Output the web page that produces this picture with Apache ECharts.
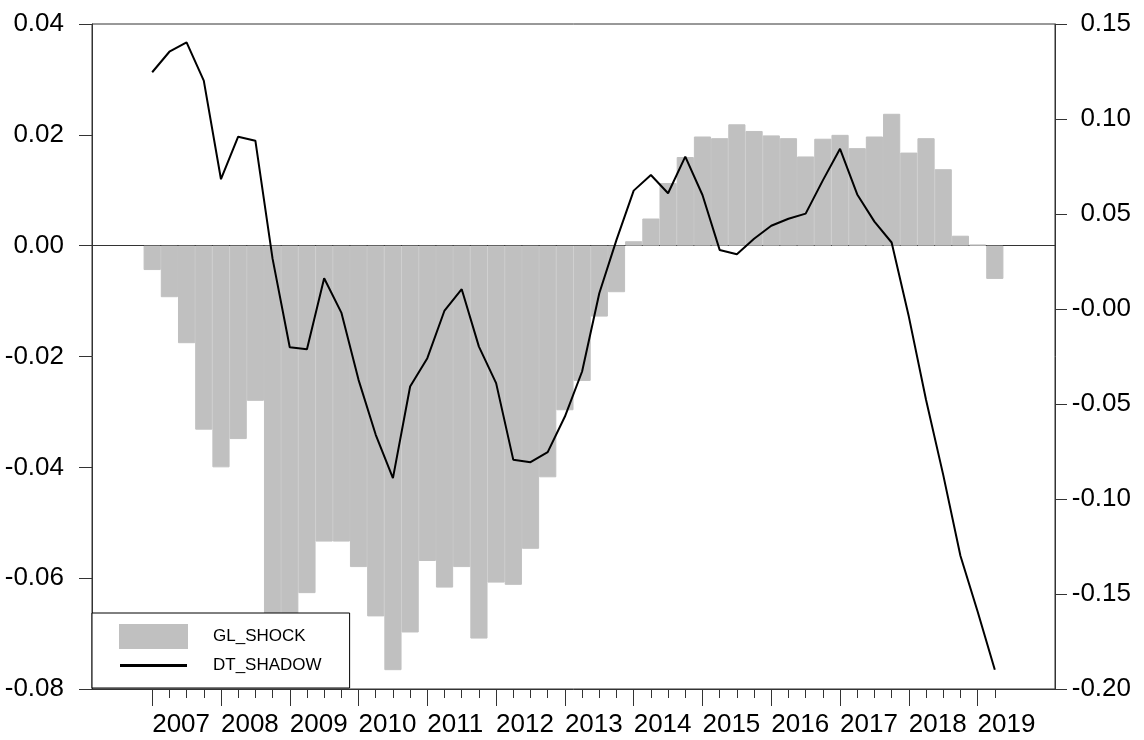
<!DOCTYPE html>
<html>
<head>
<meta charset="utf-8">
<script src="https://cdn.jsdelivr.net/npm/echarts@6/dist/echarts.min.js"></script>
<style>
html,body{margin:0;padding:0;background:#fff;}
#chart{width:1144px;height:740px;}
</style>
</head>
<body>
<div id="chart"></div>
<script>
// Quarterly categories 2007Q1 .. 2019Q2
const categories = [
  '2007Q1','2007Q2','2007Q3','2007Q4',
  '2008Q1','2008Q2','2008Q3','2008Q4',
  '2009Q1','2009Q2','2009Q3','2009Q4',
  '2010Q1','2010Q2','2010Q3','2010Q4',
  '2011Q1','2011Q2','2011Q3','2011Q4',
  '2012Q1','2012Q2','2012Q3','2012Q4',
  '2013Q1','2013Q2','2013Q3','2013Q4',
  '2014Q1','2014Q2','2014Q3','2014Q4',
  '2015Q1','2015Q2','2015Q3','2015Q4',
  '2016Q1','2016Q2','2016Q3','2016Q4',
  '2017Q1','2017Q2','2017Q3','2017Q4',
  '2018Q1','2018Q2','2018Q3','2018Q4',
  '2019Q1','2019Q2'
];

// GL_SHOCK (left axis, bars)
const glShock = [
  -0.0044, -0.0093, -0.0176, -0.0332,
  -0.0400, -0.0349, -0.0280, -0.0710,
  -0.0680, -0.0627, -0.0534, -0.0534,
  -0.0580, -0.0669, -0.0766, -0.0698,
  -0.0569, -0.0617, -0.0580, -0.0709,
  -0.0608, -0.0612, -0.0547, -0.0418,
  -0.0297, -0.0244, -0.0128, -0.0084,
   0.0008,  0.0049,  0.0113,  0.0160,
   0.0197,  0.0194,  0.0219,  0.0207,
   0.0199,  0.0194,  0.0161,  0.0193,
   0.0200,  0.0176,  0.0197,  0.0238,
   0.0168,  0.0194,  0.0138,  0.0018,
   0.0002, -0.0060
];

// DT_SHADOW (right axis, line)
const dtShadow = [
   0.1246,  0.1354,  0.1403,  0.1202,
   0.0683,  0.0907,  0.0886,  0.0265,
  -0.0201, -0.0212,  0.0162, -0.0019,
  -0.0373, -0.0662, -0.0890, -0.0408,
  -0.0259, -0.0008,  0.0104, -0.0198,
  -0.0390, -0.0794, -0.0806, -0.0753,
  -0.0566, -0.0329,  0.0083,  0.0364,
   0.0623,  0.0705,  0.0609,  0.0802,
   0.0600,  0.0311,  0.0288,  0.0370,
   0.0438,  0.0475,  0.0502,  0.0677,
   0.0843,  0.0603,  0.0460,  0.0350,
  -0.0040, -0.0478, -0.0873, -0.1299,
  -0.1592, -0.1899
];

const leftTicks = { min: -0.08, max: 0.04, interval: 0.02 };
const rightTicks = { min: -0.20, max: 0.15, interval: 0.05 };

// empty quarters shown before/after the data inside the frame
const PAD = 3;
const padCats = [];
for (let i = 0; i < PAD; i++) padCats.push('');
const allCats = padCats.concat(categories, padCats);
const padNull = new Array(PAD).fill(null);
const barData = padNull.concat(glShock, padNull);
const lineData = padNull.concat(dtShadow, padNull);

const isReal = (i) => i >= PAD && i < PAD + categories.length;
const isYear = (i) => isReal(i) && /Q1$/.test(allCats[i]);

const FONT = "'Liberation Sans Narrow', 'Arial Narrow', 'Liberation Sans', Arial, sans-serif";
const AXC = '#333';
const LABEL_SIZE = 26;

const chart = echarts.init(document.getElementById('chart'), null, { renderer: 'canvas' });
chart.setOption({
  animation: false,
  backgroundColor: '#fff',
  grid: {
    left: 92, right: 89, top: 24, bottom: 51,
    show: true, borderColor: AXC, borderWidth: 1, backgroundColor: 'transparent'
  },
  legend: {
    orient: 'vertical',
    left: 92, top: 613,
    itemWidth: 67, itemHeight: 23, itemGap: 8,
    padding: [11, 28, 14, 27],
    backgroundColor: '#fff',
    borderColor: '#000', borderWidth: 1,
    textStyle: { fontSize: 17, color: '#000', fontFamily: FONT, padding: [0, 0, 0, 21] },
    data: [
      { name: 'GL_SHOCK', icon: 'rect' },
      { name: 'DT_SHADOW', icon: 'path://M0,0H67V3H0Z', itemStyle: { color: '#000' } }
    ]
  },
  xAxis: [
    {
      type: 'category', data: allCats, position: 'bottom', boundaryGap: true,
      axisLine: { show: true, onZero: false, lineStyle: { color: AXC, width: 1 } },
      axisTick: { show: true, alignWithLabel: true, length: 9, interval: (i) => isReal(i), lineStyle: { color: AXC } },
      axisLabel: { show: false },
      splitLine: { show: false }
    },
    {
      type: 'category', data: allCats, position: 'bottom', boundaryGap: true,
      axisLine: { show: false, onZero: false },
      axisTick: { show: true, alignWithLabel: true, length: 17, interval: (i) => isYear(i), lineStyle: { color: AXC } },
      axisLabel: {
        show: true, interval: (i) => isYear(i), align: 'left', margin: 23,
        fontSize: LABEL_SIZE, color: '#000', fontFamily: FONT,
        formatter: (v) => v.slice(0, 4)
      },
      splitLine: { show: false }
    }
  ],
  yAxis: [
    {
      type: 'value', position: 'left',
      min: leftTicks.min, max: leftTicks.max, interval: leftTicks.interval,
      axisLine: { show: true, onZero: false, lineStyle: { color: AXC, width: 1 } },
      axisTick: { show: true, length: 13, lineStyle: { color: AXC } },
      axisLabel: { margin: 28, fontSize: LABEL_SIZE, color: '#000', fontFamily: FONT, formatter: (v) => v.toFixed(2) },
      splitLine: { show: false }
    },
    {
      type: 'value', position: 'right',
      min: rightTicks.min, max: rightTicks.max, interval: rightTicks.interval,
      axisLine: { show: true, onZero: false, lineStyle: { color: AXC, width: 1 } },
      axisTick: { show: true, length: 12, lineStyle: { color: AXC } },
      axisLabel: {
        margin: 76, align: 'right', fontSize: LABEL_SIZE, color: '#000', fontFamily: FONT,
        formatter: (v) => (Math.abs(v) < 1e-9 ? '-0.00' : v.toFixed(2))
      },
      splitLine: { show: false }
    }
  ],
  series: [
    {
      // zero reference line, drawn beneath the bars
      name: 'zero', type: 'line', xAxisIndex: 0, yAxisIndex: 0, data: [],
      z: 1, silent: true, legendHoverLink: false,
      markLine: {
        silent: true, symbol: 'none', z: 1, animation: false,
        label: { show: false },
        lineStyle: { color: '#333', width: 1, type: 'solid' },
        data: [{ yAxis: 0 }]
      }
    },
    {
      name: 'GL_SHOCK', type: 'bar', xAxisIndex: 0, yAxisIndex: 0,
      data: barData, barWidth: '100%', barGap: '0%', barCategoryGap: '0%',
      itemStyle: { color: '#c0c0c0', borderColor: '#c0c0c0', borderWidth: 1 }, z: 2
    },
    {
      name: 'DT_SHADOW', type: 'line', xAxisIndex: 0, yAxisIndex: 1,
      data: lineData, symbol: 'none', showSymbol: false, connectNulls: false,
      lineStyle: { color: '#000', width: 2 }, itemStyle: { color: '#000' }, z: 3
    }
  ]
});
</script>
</body>
</html>
